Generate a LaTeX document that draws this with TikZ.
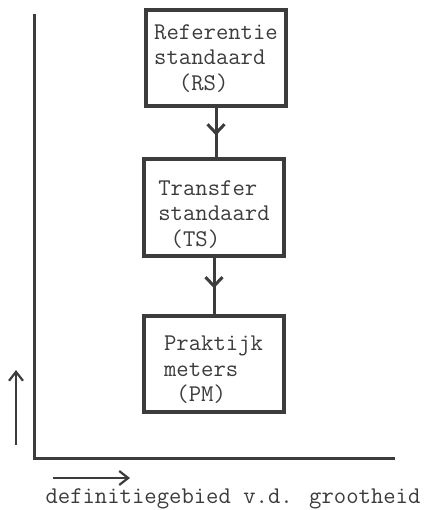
\documentclass[tikz,border=0pt]{standalone}
\usetikzlibrary{arrows.meta,decorations.markings,positioning}
\definecolor{ink}{HTML}{3C3C3C}
\begin{document}
\begin{tikzpicture}[x=1pt, y=-1pt, ink,
  font=\ttfamily\fontsize{24}{25.5}\selectfont,
  box/.style={draw=ink, line width=4pt, minimum width=140pt, minimum height=96pt,
    align=left, inner sep=0pt, text=ink},
  flow/.style={line width=3pt, postaction={decorate},
    decoration={markings, mark=at position 0.55 with {\arrow{Straight Barb[length=9pt,width=17pt,line width=3pt]}}}},
  axis/.style={line width=3pt},
  hint/.style={line width=2.2pt, -{Straight Barb[length=9pt,width=14pt]}}]
\useasboundingbox (0,0) rectangle (427,510);
% boxes
\node[box] (rs) at (216,58.5) {Referentie\\standaard\\~~(RS)};
\node[box] (ts) at (214,207.5) {\rule{0pt}{28.7pt}Transfer\\standaard\\~(TS)};
\node[box] (pm) at (213.5,363.5) {\rule{0pt}{27.7pt}Praktijk\\meters\\~(PM)};
\draw[flow] (rs.south) -- (rs.south |- ts.north);
\draw[flow] (ts.south) -- (ts.south |- pm.north);
% axes
\coordinate (ytop) at (34,14);
\coordinate (orig) at (34,458);
\coordinate (xend) at (395,458);
\draw[axis] (ytop) -- (orig) -- (xend);
\coordinate (up0) at (16,445); \coordinate (up1) at (16,370);
\draw[hint] (up0) -- (up1);
\coordinate (rt0) at (53,478); \coordinate (rt1) at (130,478);
\draw[hint] (rt0) -- (rt1);
\node[anchor=base, inner sep=0pt] (domain) at (233,503) {definitiegebied v.d. grootheid};
\end{tikzpicture}
\end{document}
